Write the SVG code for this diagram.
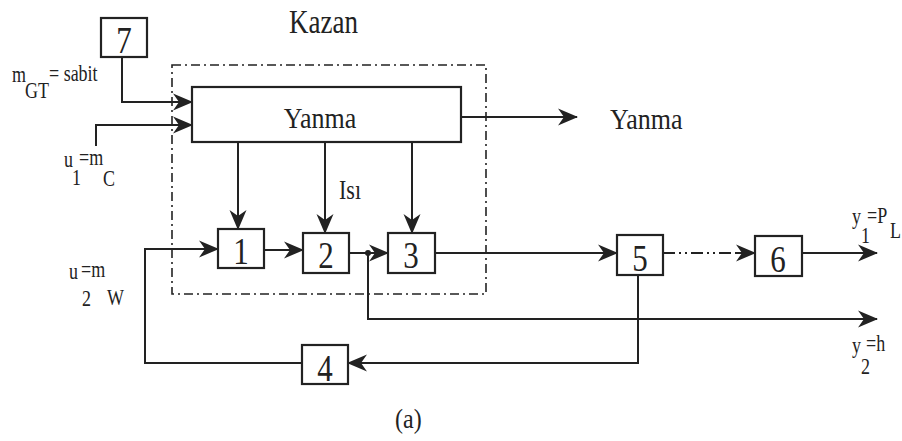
<svg xmlns="http://www.w3.org/2000/svg" width="902" height="441" viewBox="0 0 902 441">
<defs>
<marker id="ah" viewBox="0 0 20 18" markerUnits="strokeWidth" markerWidth="10" markerHeight="9" refX="19" refY="9" orient="auto">
<path d="M0,0.5 L20,9 L0,17.5 L6,9 Z" fill="#222"/>
</marker>
<style>
.ln{fill:none;stroke:#222;stroke-width:2}
.ar{marker-end:url(#ah)}
.bx{fill:#fff;stroke:#222;stroke-width:2.2}
.dig{font-family:"Liberation Serif","Times New Roman",serif;font-size:31px;fill:#222;text-anchor:middle}
.t{font-family:"Liberation Serif","Times New Roman",serif;fill:#222}
.lb{font-family:"Liberation Serif","Times New Roman",serif;font-size:18px;fill:#222}
</style>
</defs>
<rect width="902" height="441" fill="#fff"/>
<rect x="172" y="65" width="314" height="229" fill="none" stroke="#222" stroke-width="1.6" stroke-dasharray="9 4 2 4"/>
<g id="connectors">
<path class="ln ar" d="M122 57 V102 H192"/>
<path class="ln ar" d="M96 146 V125 H192"/>
<path class="ln ar" d="M461 117 H577"/>
<path class="ln ar" d="M238 142 V229"/>
<path class="ln ar" d="M325 142 V233"/>
<path class="ln ar" d="M412 142 V233"/>
<path class="ln ar" d="M264 250 H303"/>
<path class="ln ar" d="M349 253 H388"/>
<circle cx="368" cy="253" r="3" fill="#222"/>
<path class="ln ar" d="M368 253 V319 H877"/>
<path class="ln ar" d="M435 253 H617"/>
<path class="ln" d="M663 253 H738" stroke-dasharray="12 4 2 4 2 4"/>
<path class="ln ar" d="M736 253 H755"/>
<path class="ln ar" d="M802 253 H877"/>
<path class="ln ar" d="M638 275 V363 H348"/>
<path class="ln ar" d="M302 363 H145 V249 H218"/>
</g>
<g id="yanma"><rect class="bx" x="192" y="87" width="269" height="55"/><text class="t" font-size="26" transform="translate(320,128) scale(1,1.12)" text-anchor="middle">Yanma</text></g>
<g id="n7"><rect class="bx" x="101" y="18" width="46" height="39"/><text class="dig" transform="translate(124,53) scale(1,1.2)">7</text></g>
<g id="n1"><rect class="bx" x="218" y="229" width="46" height="39"/><text class="dig" transform="translate(241,264) scale(1,1.2)">1</text></g>
<g id="n2"><rect class="bx" x="303" y="233" width="46" height="40"/><text class="dig" transform="translate(326,268) scale(1,1.2)">2</text></g>
<g id="n3"><rect class="bx" x="388" y="233" width="47" height="40"/><text class="dig" transform="translate(411,268) scale(1,1.2)">3</text></g>
<g id="n5"><rect class="bx" x="617" y="235" width="46" height="40"/><text class="dig" transform="translate(640,271) scale(1,1.2)">5</text></g>
<g id="n6"><rect class="bx" x="755" y="236" width="47" height="40"/><text class="dig" transform="translate(778,272) scale(1,1.2)">6</text></g>
<g id="n4"><rect class="bx" x="302" y="345" width="46" height="39"/><text class="dig" transform="translate(325,381) scale(1,1.2)">4</text></g>
<g id="labels">
<text class="t" font-size="27" transform="translate(289,33) scale(1,1.25)">Kazan</text>
<text class="t" font-size="26" transform="translate(610,129) scale(1,1.12)">Yanma</text>
<text class="t" font-size="22" transform="translate(339,199) scale(1,1.2)">Isı</text>
<text class="t" font-size="24" transform="translate(395,428) scale(1,1.1)">(a)</text>
<text class="lb" transform="translate(12,82) scale(1,1.25)">m</text>
<text class="lb" transform="translate(25,98) scale(1,1.25)">GT</text>
<text class="lb" transform="translate(49,81) scale(1,1.25)">= sabit</text>
<text class="lb" transform="translate(64,167) scale(1,1.25)">u</text>
<text class="lb" transform="translate(72,185) scale(1,1.25)">1</text>
<text class="lb" transform="translate(79,165) scale(1,1.25)">=m</text>
<text class="lb" transform="translate(103,186) scale(1,1.25)">C</text>
<text class="lb" transform="translate(69,279) scale(1,1.25)">u</text>
<text class="lb" transform="translate(82,306) scale(1,1.25)">2</text>
<text class="lb" transform="translate(81,277) scale(1,1.25)">=m</text>
<text class="lb" transform="translate(107,305) scale(1,1.25)">W</text>
<text class="lb" transform="translate(852,224) scale(1,1.25)">y</text>
<text class="lb" transform="translate(861,243) scale(1,1.25)">1</text>
<text class="lb" transform="translate(867,223) scale(1,1.25)">=P</text>
<text class="lb" transform="translate(890,238) scale(1,1.25)">L</text>
<text class="lb" transform="translate(852,353) scale(1,1.25)">y</text>
<text class="lb" transform="translate(861,374) scale(1,1.25)">2</text>
<text class="lb" transform="translate(866,351) scale(1,1.25)">=h</text>
</g>
</svg>
